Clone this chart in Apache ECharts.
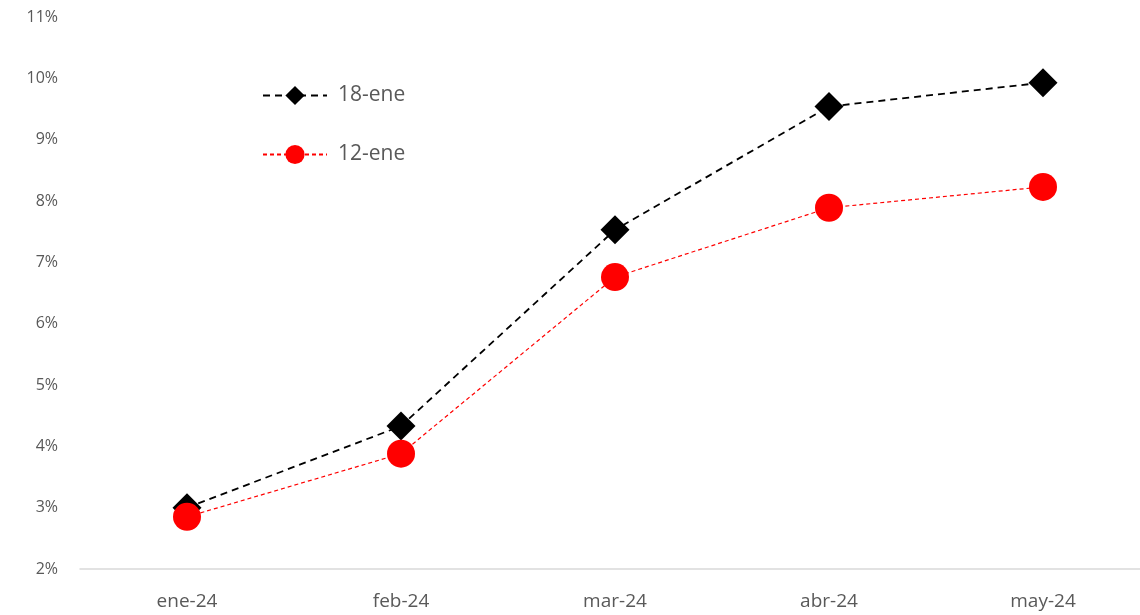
<!DOCTYPE html>
<html>
<head>
<meta charset="utf-8">
<script src="https://cdn.jsdelivr.net/npm/echarts@6/dist/echarts.min.js"></script>
<style>
  html, body { margin: 0; padding: 0; background: #fff; }
  #chart { width: 1140px; height: 615px; }
</style>
</head>
<body>
<div id="chart"></div>
<script>
// Monthly path (%) from two snapshot dates
const categories = ['ene-24', 'feb-24', 'mar-24', 'abr-24', 'may-24'];
const series18ene = [3.0, 4.33, 7.53, 9.54, 9.93];
const series12ene = [2.85, 3.88, 6.76, 7.89, 8.23];
const seriesNames = ['18-ene', '12-ene'];

const textColor = '#595959';
const fontFamily = '"Open Sans", Lato, sans-serif';

const chart = echarts.init(document.getElementById('chart'), null, { renderer: 'canvas' });

const legendText = { color: textColor, fontSize: 21, fontFamily: fontFamily, padding: [0, 0, 0, 6] };

chart.setOption({
  animation: false,
  backgroundColor: '#ffffff',
  grid: { left: 80, width: 1070, top: 17, bottom: 46, containLabel: false, outerBoundsMode: 'none' },
  legend: [
    {
      data: [seriesNames[0]],
      left: 257, top: 80,
      itemWidth: 64, itemHeight: 24,
      textStyle: legendText
    },
    {
      data: [seriesNames[1]],
      left: 257, top: 139,
      itemWidth: 64, itemHeight: 24,
      textStyle: legendText
    }
  ],
  xAxis: {
    type: 'category',
    data: categories,
    boundaryGap: true,
    axisLine: { show: true, lineStyle: { color: '#d9d9d9', width: 1.5 } },
    axisTick: { show: false },
    axisLabel: { color: textColor, fontSize: 19, fontFamily: fontFamily, margin: 23 }
  },
  yAxis: {
    type: 'value',
    min: 2, max: 11, interval: 1,
    axisLine: { show: false },
    axisTick: { show: false },
    splitLine: { show: false },
    axisLabel: { color: textColor, fontSize: 16, fontFamily: fontFamily, margin: 22, formatter: '{value}%' }
  },
  series: [
    {
      name: seriesNames[0],
      type: 'line',
      data: series18ene,
      symbol: 'diamond',
      symbolSize: 29,
      itemStyle: { color: '#000000' },
      lineStyle: { color: '#000000', width: 1.8, type: [7, 5] },
      z: 2
    },
    {
      name: seriesNames[1],
      type: 'line',
      data: series12ene,
      symbol: 'circle',
      symbolSize: 28,
      itemStyle: { color: '#ff0000' },
      lineStyle: { color: '#ff0000', width: 1.2, type: [4, 3] },
      z: 3
    }
  ]
});
</script>
</body>
</html>
